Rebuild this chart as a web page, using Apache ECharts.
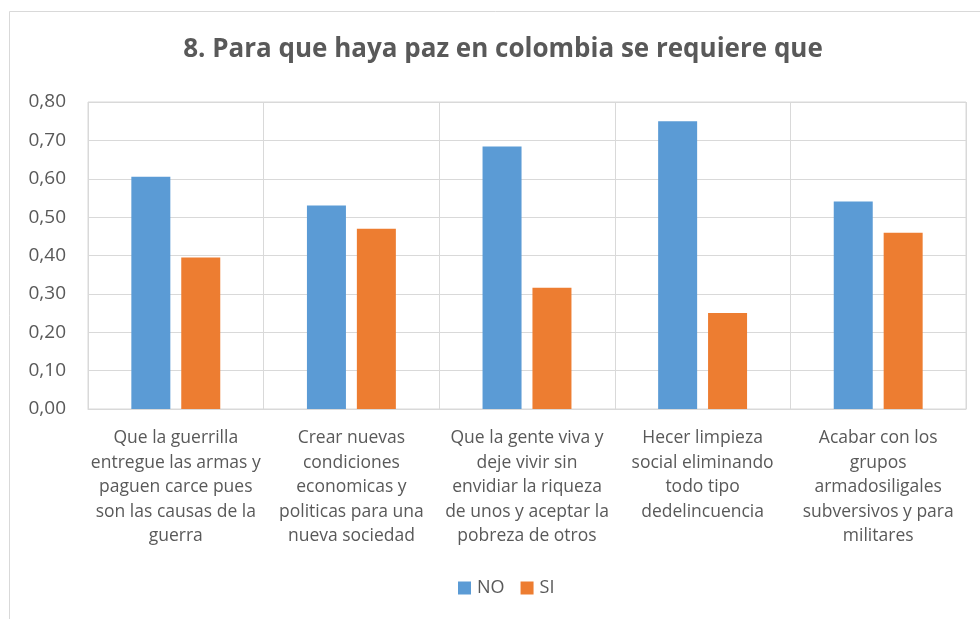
<!DOCTYPE html>
<html><head><meta charset="utf-8">
<script src="https://cdn.jsdelivr.net/npm/echarts@6/dist/echarts.min.js"></script>
<style>html,body{margin:0;padding:0;background:#fff}#c{width:980px;height:619px}</style>
</head><body><div id="c"></div>
<script>
const categories = [
  "Que la guerrilla\nentregue las armas y\npaguen carce pues\nson las causas de la\nguerra",
  "Crear nuevas\ncondiciones\neconomicas y\npoliticas para una\nnueva sociedad",
  "Que la gente viva y\ndeje vivir sin\nenvidiar la riqueza\nde unos y aceptar la\npobreza de otros",
  "Hecer limpieza\nsocial eliminando\ntodo tipo\ndedelincuencia",
  "Acabar con los\ngrupos\narmadosiligales\nsubversivos y para\nmilitares"
];
const noValues = [0.605, 0.53, 0.684, 0.75, 0.541];
const siValues = [0.395, 0.47, 0.316, 0.25, 0.459];
const seriesNames = ["NO", "SI"];
const titleText = "8. Para que haya paz en colombia se requiere que";

const font = "'Open Sans', 'Noto Sans', sans-serif";
const chart = echarts.init(document.getElementById('c'), null, {renderer: 'canvas'});
chart.setOption({
  animation: false,
  textStyle: {fontFamily: font},
  graphic: [{
    type: 'rect', shape: {x: 9.5, y: 11.5, width: 1000, height: 700},
    style: {fill: 'none', stroke: '#d9d9d9', lineWidth: 1}, silent: true, z: -1
  }],
  title: {
    text: titleText, left: 498, top: 32, textAlign: 'center',
    textStyle: {fontFamily: font, fontSize: 26, fontWeight: 'bold', color: '#595959'}
  },
  legend: {
    data: seriesNames, top: 574, left: 453, itemWidth: 13, itemHeight: 13, itemGap: 16,
    icon: 'rect',
    textStyle: {fontFamily: font, fontSize: 18, color: '#595959', padding: [0, 0, 0, 1]}
  },
  grid: {left: 88, right: 14, top: 102, bottom: 210, show: true, borderColor: '#d9d9d9', borderWidth: 1},
  xAxis: {
    type: 'category', data: categories,
    axisLine: {show: true, lineStyle: {color: '#d9d9d9', width: 1}},
    axisTick: {show: false},
    splitLine: {show: true, lineStyle: {color: '#d9d9d9', width: 1}},
    axisLabel: {interval: 0, margin: 17, color: '#595959', fontFamily: font, fontSize: 17.5, lineHeight: 24.5}
  },
  yAxis: {
    type: 'value', min: 0, max: 0.8, interval: 0.1,
    axisLine: {show: false}, axisTick: {show: false},
    splitLine: {lineStyle: {color: '#d9d9d9', width: 1}},
    axisLabel: {margin: 22, color: '#595959', fontFamily: font, fontSize: 19,
      formatter: v => v.toFixed(2).replace('.', ',')}
  },
  series: [
    {name: seriesNames[0], type: 'bar', data: noValues, barWidth: 39, barGap: '28%',
      itemStyle: {color: '#5b9bd5'}},
    {name: seriesNames[1], type: 'bar', data: siValues, barWidth: 39,
      itemStyle: {color: '#ed7d31'}}
  ]
});
</script></body></html>
